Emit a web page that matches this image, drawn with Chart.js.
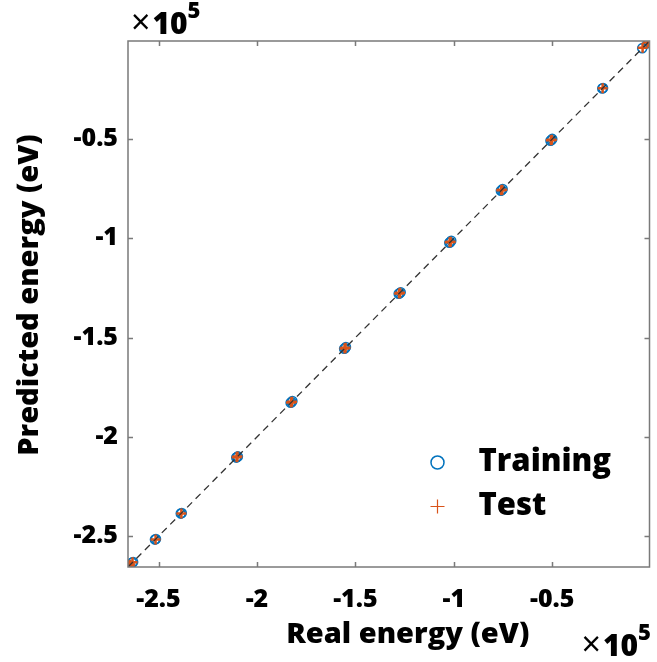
<!DOCTYPE html>
<html>
<head>
<meta charset="utf-8">
<script src="https://cdn.jsdelivr.net/npm/chart.js@4.4.1/dist/chart.umd.min.js"></script>
<style>
html,body{margin:0;padding:0;background:#fff;}
#wrap{width:657px;height:662px;position:relative;}
</style>
</head>
<body>
<div id="wrap"><canvas id="c" width="657" height="662"></canvas></div>
<script>
// ---- data (eV) ----
const trainX = [-264700,-263400,-262900,-251800,-251300,-238700,-238200,-210500,-210100,-209700,-182900,-182400,-182000,-155700,-155200,-154800,-128000,-127500,-127000,-102300,-101800,-101300,-76100,-75600,-75200,-50900,-50400,-50000,-24600,-24200,-4300,-1600,-1000];
const trainY = [-264600,-263300,-263000,-251700,-251400,-238600,-238300,-210400,-210100,-209800,-182800,-182500,-181900,-155600,-155300,-154700,-127900,-127600,-127100,-102200,-101900,-101200,-76000,-75700,-75100,-50800,-50500,-49900,-24500,-24300,-4200,-1700,-900];
const testX  = [-264500,-263200,-251500,-238400,-210300,-209900,-182700,-182200,-155500,-155000,-127800,-127300,-102100,-101600,-75900,-75400,-50700,-50200,-24400,-4100,-1400];
const testY  = [-264400,-263100,-251600,-238500,-210200,-209900,-182600,-182300,-155400,-155100,-127700,-127400,-102000,-101700,-75800,-75500,-50600,-50300,-24400,-4000,-1300];
const refLine = [-265500, -600];
const tickVals = [-250000,-200000,-150000,-100000,-50000];
const axisMin = -265500, axisMax = -600;
const seriesNames = ['Training','Test'];
const xTitle = 'Real energy (eV)', yTitle = 'Predicted energy (eV)';

const FONT = "'Open Sans', 'DejaVu Sans', sans-serif";
const BLUE = '#0072BD', ORANGE = '#D95319';

function fmt(v){ return String(Math.round(v/1e4)/10); }

const framePlugin = {
  id:'frame',
  afterDatasetsDraw(chart){
    const {ctx, chartArea:a, scales:{x,y}} = chart;
    ctx.save();
    ctx.strokeStyle = '#7a7a7a';
    ctx.lineWidth = 1.5;
    ctx.strokeRect(a.left, a.top, a.right-a.left, a.bottom-a.top);
    ctx.beginPath();
    const L = 5;
    tickVals.forEach(v=>{
      const px = Math.round(x.getPixelForValue(v))+0.5;
      ctx.moveTo(px, a.bottom); ctx.lineTo(px, a.bottom-L);
      ctx.moveTo(px, a.top); ctx.lineTo(px, a.top+L);
      const py = Math.round(y.getPixelForValue(v))+0.5;
      ctx.moveTo(a.left, py); ctx.lineTo(a.left+L, py);
      ctx.moveTo(a.right, py); ctx.lineTo(a.right-L, py);
    });
    ctx.stroke();
    // legend
    const lx = Math.round(a.left + (a.right-a.left)*0.593)+0.5;
    const ly1 = Math.round(a.top + (a.bottom-a.top)*0.800)+0.5;
    const ly2 = Math.round(a.top + (a.bottom-a.top)*0.884)+0.5;
    ctx.strokeStyle = BLUE; ctx.lineWidth = 1.5;
    ctx.beginPath(); ctx.arc(lx, ly1, 6.5, 0, Math.PI*2); ctx.stroke();
    ctx.strokeStyle = ORANGE; ctx.lineWidth = 1.2;
    ctx.beginPath(); ctx.moveTo(lx-7, ly2); ctx.lineTo(lx+7, ly2); ctx.moveTo(lx, ly2-7); ctx.lineTo(lx, ly2+7); ctx.stroke();
    ctx.fillStyle = '#000';
    ctx.font = "800 31px " + FONT;
    ctx.textBaseline = 'middle'; ctx.textAlign = 'left';
    ctx.fillText(seriesNames[0], lx+41, ly1);
    ctx.fillText(seriesNames[1], lx+41, ly2);
    // axis titles
    ctx.font = "800 29px " + FONT;
    ctx.textAlign = 'center'; ctx.textBaseline = 'middle';
    ctx.fillText(xTitle, (a.left+a.right)/2 + 19, 635);
    ctx.save();
    ctx.translate(30, (a.top+a.bottom)/2 - 9);
    ctx.rotate(-Math.PI/2);
    ctx.fillText(yTitle, 0, 0);
    ctx.restore();
    // exponent labels
    ctx.textAlign = 'left';
    function expo(x0, base){
      ctx.textBaseline = 'alphabetic';
      ctx.font = "34px " + FONT;
      ctx.fillText('\u00d7', x0, base);
      const w1 = ctx.measureText('\u00d7').width;
      ctx.font = "800 30px " + FONT;
      ctx.fillText('10', x0+w1+2, base);
      const w2 = ctx.measureText('10').width;
      ctx.font = "800 22px " + FONT;
      ctx.fillText('5', x0+w1+2+w2, base-16);
    }
    expo(a.left+3, a.top-7);
    expo(a.right-68, 656);
    ctx.restore();
  }
};

new Chart(document.getElementById('c'), {
  type:'scatter',
  data:{
    datasets:[
      {label:'ref', type:'line', data: refLine.map(v=>({x:v,y:v})), borderColor:'#333', borderWidth:1.3, borderDash:[7,5], pointRadius:0, fill:false, order:0},
      {label:seriesNames[1], data: testX.map((v,i)=>({x:v,y:testY[i]})), pointStyle:'cross', pointRadius:5, borderColor:ORANGE, borderWidth:2.5, backgroundColor:ORANGE, order:1},
      {label:seriesNames[0], data: trainX.map((v,i)=>({x:v,y:trainY[i]})), pointStyle:'circle', pointRadius:4.5, borderColor:BLUE, borderWidth:1.6, backgroundColor:'rgba(0,0,0,0)', order:2}
    ]
  },
  options:{
    responsive:false, animation:false,
    layout:{padding:{left:0, top:41, right:3, bottom:0}},
    plugins:{legend:{display:false}, tooltip:{enabled:false}},
    scales:{
      x:{
        type:'linear', min:axisMin, max:axisMax,
        afterBuildTicks(s){ s.ticks = tickVals.map(v=>({value:v})); },
        afterFit(s){ s.height = 95; },
        grid:{display:false, drawTicks:false},
        border:{display:false},
        ticks:{padding:18, color:'#000', font:{family:FONT, size:25, weight:800}, callback:(v)=>fmt(v), maxRotation:0, autoSkip:false},
        title:{display:false}
      },
      y:{
        type:'linear', min:axisMin, max:axisMax,
        afterBuildTicks(s){ s.ticks = tickVals.map(v=>({value:v})); },
        afterFit(s){ s.width = 128; },
        grid:{display:false, drawTicks:false},
        border:{display:false},
        ticks:{padding:10, color:'#000', font:{family:FONT, size:25, weight:800}, callback:(v)=>fmt(v), autoSkip:false},
        title:{display:false}
      }
    }
  },
  plugins:[framePlugin]
});
</script>
</body>
</html>
